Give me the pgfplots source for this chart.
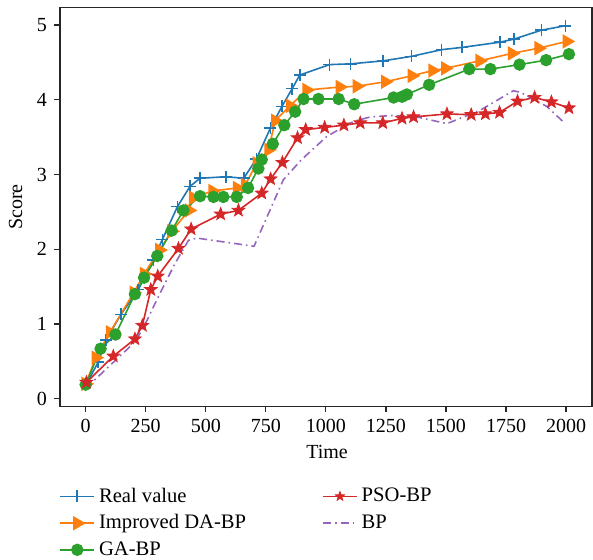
\documentclass[border=0pt]{standalone}
\usepackage{fontspec}
\setmainfont{Liberation Serif}
\usepackage{pgfplots}
\pgfplotsset{compat=1.18}
\definecolor{cblue}{HTML}{1F77B4}
\definecolor{corange}{HTML}{FF7F0E}
\definecolor{cgreen}{HTML}{2CA02C}
\definecolor{cred}{HTML}{D62728}
\definecolor{cpurple}{HTML}{9467BD}
\pgfdeclareplotmark{fstar}{%
  \pgfpathmoveto{\pgfpointpolar{90}{\pgfplotmarksize}}%
  \pgfpathlineto{\pgfpointpolar{126}{0.42\pgfplotmarksize}}%
  \pgfpathlineto{\pgfpointpolar{162}{\pgfplotmarksize}}%
  \pgfpathlineto{\pgfpointpolar{198}{0.42\pgfplotmarksize}}%
  \pgfpathlineto{\pgfpointpolar{234}{\pgfplotmarksize}}%
  \pgfpathlineto{\pgfpointpolar{270}{0.42\pgfplotmarksize}}%
  \pgfpathlineto{\pgfpointpolar{306}{\pgfplotmarksize}}%
  \pgfpathlineto{\pgfpointpolar{342}{0.42\pgfplotmarksize}}%
  \pgfpathlineto{\pgfpointpolar{18}{\pgfplotmarksize}}%
  \pgfpathlineto{\pgfpointpolar{54}{0.42\pgfplotmarksize}}%
  \pgfpathclose
  \pgfusepathqfillstroke}
\begin{document}
\begin{tikzpicture}
\begin{axis}[
  scale only axis, width=266pt, height=199.5pt,
  xmin=-107, xmax=2108, ymin=-0.103, ymax=5.234,
  xtick={0,250,...,2000}, ytick={0,1,2,3,4,5},
  tick pos=left, tick align=outside, major tick length=3pt,
  axis line style={black!85, line width=0.6pt},
  every tick/.style={black!85, line width=0.6pt},
  tick label style={font=\fontsize{10}{12}\selectfont},
  /pgf/number format/assume math mode=true,
  /pgf/number format/1000 sep={},
  xlabel={Time}, ylabel={Score},
  label style={font=\fontsize{10}{12}\selectfont},
  xlabel style={anchor=center, at={(axis description cs:0.502,-0.114)}},
  ylabel style={anchor=center, at={(axis description cs:-0.0836,0.5)}},
  legend columns=2,
  legend cell align=left,
  legend style={at={(axis description cs:-0.013,-0.1825)}, anchor=north west,
    draw=none, fill=none, font=\fontsize{10.3}{12}\selectfont,
    /tikz/every odd column/.append style={column sep=0pt},
    /tikz/every even column/.append style={column sep=36pt},
    /tikz/row sep=0.8pt},
  legend image code/.code={\draw[mark repeat=2,mark phase=2,#1] plot coordinates {(0pt,0pt)(8.5pt,0pt)(17pt,0pt)};},
]
% Real value
\addplot[cblue, line width=0.8pt, mark=+, mark size=3pt, forget plot] coordinates {
(0,0.18)(52,0.49)(85,0.79)(147,1.13)(219,1.46)(282,1.86)(319,2.13)(382,2.57)(434,2.84)(476,2.95)(585,2.97)(658,2.95)(711,3.21)(769,3.62)(817,3.91)(860,4.15)(891,4.33)(1015,4.47)(1103,4.48)(1238,4.52)(1356,4.58)(1482,4.67)(1567,4.70)(1725,4.77)(1782,4.81)(1897,4.93)(1997,4.99)};
% Improved DA-BP
\addplot[corange, line width=0.8pt, mark=triangle*, mark size=3.4pt, mark options={rotate=-90}, forget plot] coordinates {
(0,0.20)(42,0.55)(101,0.89)(200,1.42)(243,1.67)(307,1.99)(358,2.24)(430,2.52)(447,2.69)(528,2.78)(630,2.82)(664,2.86)(712,3.15)(761,3.33)(789,3.72)(851,3.92)(920,4.13)(1058,4.17)(1129,4.18)(1247,4.24)(1358,4.32)(1444,4.39)(1497,4.42)(1640,4.52)(1775,4.62)(1886,4.69)(2003,4.78)};
% GA-BP
\addplot[cgreen, line width=0.8pt, mark=*, mark size=2.7pt, forget plot] coordinates {
(0,0.19)(62,0.67)(124,0.86)(205,1.40)(243,1.62)(298,1.91)(358,2.25)(407,2.52)(476,2.71)(532,2.70)(573,2.70)(629,2.70)(676,2.82)(719,3.08)(733,3.20)(779,3.41)(827,3.66)(872,3.84)(907,4.01)(969,4.01)(1053,4.01)(1118,3.94)(1282,4.03)(1317,4.04)(1337,4.07)(1430,4.20)(1597,4.41)(1685,4.41)(1806,4.47)(1917,4.53)(2012,4.61)};
% PSO-BP
\addplot[cred, line width=0.8pt, mark=fstar, mark size=3.3pt, mark options={fill=cred, line width=0.4pt}, forget plot] coordinates {
(3,0.22)(115,0.57)(205,0.80)(236,0.98)(271,1.46)(300,1.64)(386,2.01)(439,2.27)(562,2.47)(636,2.52)(733,2.75)(770,2.94)(819,3.16)(882,3.49)(916,3.60)(995,3.63)(1075,3.66)(1143,3.69)(1237,3.69)(1317,3.75)(1365,3.77)(1504,3.81)(1605,3.80)(1664,3.81)(1723,3.83)(1798,3.98)(1869,4.03)(1939,3.97)(2012,3.89)};
% BP
\addplot[cpurple, line width=0.8pt, dash pattern=on 4pt off 2pt on 0.8pt off 2pt, forget plot] coordinates {
(0,0.14)(205,0.76)(245,0.98)(300,1.35)(372,1.81)(428,2.12)(462,2.15)(701,2.04)(823,2.93)(899,3.20)(1004,3.51)(1115,3.71)(1185,3.77)(1282,3.79)(1365,3.78)(1504,3.68)(1643,3.86)(1780,4.12)(1810,4.10)(1920,3.91)(1990,3.70)};
% legend in column-major order
\addlegendimage{cblue, line width=0.8pt, mark=+, mark size=3pt}
\addlegendentry{Real value}
\addlegendimage{cred, line width=0.8pt, mark=fstar, mark size=2.4pt, mark options={fill=cred, line width=0.4pt}}
\addlegendentry{PSO-BP}
\addlegendimage{corange, line width=0.8pt, mark=triangle*, mark size=3.4pt, mark options={rotate=-90}}
\addlegendentry{Improved DA-BP}
\addlegendimage{cpurple, line width=0.8pt, dash pattern=on 4pt off 2pt on 0.8pt off 2pt}
\addlegendentry{BP}
\addlegendimage{cgreen, line width=0.8pt, mark=*, mark size=2.7pt}
\addlegendentry{GA-BP}
\end{axis}
\pgfresetboundingbox
\path (-30pt,-76.75pt) rectangle (266.5pt,203.25pt);
\end{tikzpicture}
\end{document}
